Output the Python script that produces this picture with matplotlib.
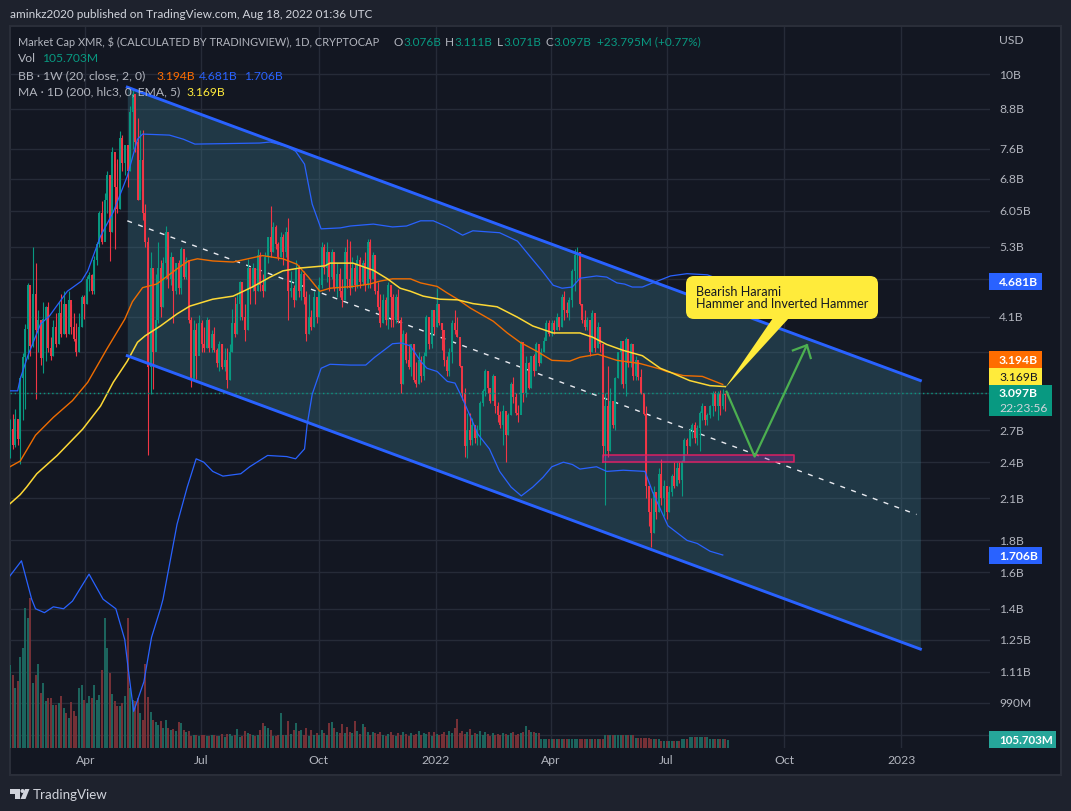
import numpy as np
import pandas as pd
import matplotlib
matplotlib.use('Agg')
import matplotlib.pyplot as plt
from matplotlib.patches import Rectangle, FancyBboxPatch, Polygon, Circle

plt.rcParams['font.family'] = ['Lato', 'DejaVu Sans']

# daily candles, grouped in 2 day bars (values in billions)
closes = [
    2.71, 2.56, 2.81, 2.61, 3.27, 3.53, 3.92, 4.60, 3.68, 4.45,
    3.90, 4.05, 3.52, 4.06, 4.25, 3.65, 3.55, 3.95, 3.70, 4.15,
    3.85, 4.30, 3.85, 4.35, 3.95, 3.78, 3.60, 3.95, 4.40, 4.30,
    4.70, 4.78, 4.50, 5.05, 5.35, 6.00, 5.40, 6.30, 6.90, 5.60,
    7.50, 6.60, 6.10, 7.90, 7.20, 7.70, 7.00, 8.70, 9.30, 7.80,
    6.30, 7.30, 6.00, 5.40, 3.40, 4.90, 3.60, 4.05, 4.90, 4.25,
    5.00, 5.60, 4.70, 5.10, 4.50, 5.00, 4.55, 5.25, 4.75, 5.05,
    4.05, 3.25, 3.90, 3.55, 4.00, 3.70, 3.65, 4.05, 3.65, 3.85,
    3.62, 3.45, 3.70, 3.40, 3.50, 3.25, 3.60, 4.00, 3.85, 4.30,
    4.65, 4.10, 3.90, 4.90, 4.55, 4.90, 4.50, 5.15, 4.60, 4.50,
    5.10, 5.50, 5.20, 5.70, 5.35, 5.10, 5.50, 5.20, 5.60, 4.50,
    4.55, 4.35, 4.90, 4.50, 4.80, 4.40, 3.85, 4.10, 3.95, 4.40,
    4.10, 4.60, 5.30, 4.90, 5.20, 4.75, 5.20, 4.55, 4.80, 4.50,
    4.35, 5.20, 4.70, 4.55, 4.90, 4.60, 5.05, 4.65, 5.00, 4.60,
    5.40, 4.70, 5.15, 4.50, 4.25, 4.00, 4.35, 4.05, 4.60, 4.40,
    4.05, 4.40, 4.05, 3.20, 3.85, 3.50, 3.40, 3.70, 3.25, 3.20,
    3.50, 3.30, 3.55, 4.10, 3.70, 4.20, 3.95, 4.30, 4.00, 3.90,
    3.50, 3.35, 3.60, 4.00, 3.90, 3.80, 3.42, 3.10, 2.55, 2.70,
    2.60, 2.75, 2.62, 2.70, 2.98, 3.12, 3.36, 3.15, 3.00, 3.30,
    2.95, 2.85, 2.75, 2.90, 2.65, 2.85, 3.20, 3.05, 2.88, 2.85,
    3.73, 3.10, 3.45, 3.15, 3.55, 3.35, 3.70, 3.45, 3.60, 3.75,
    4.00, 3.85, 4.00, 3.90, 4.10, 3.95, 4.40, 4.20, 4.15, 4.35,
    4.85, 5.15, 5.20, 4.30, 4.05, 3.95, 4.05, 3.60, 4.15, 3.65,
    3.95, 3.70, 2.55, 2.95, 2.50, 3.00, 2.75, 3.27, 3.60, 3.75,
    3.20, 3.78, 3.45, 3.70, 3.30, 3.50, 3.28, 3.10, 2.87, 2.20,
    2.00, 1.85, 2.15, 2.00, 2.30, 2.10, 2.20, 2.00, 2.15, 2.28,
    2.20, 2.35, 2.25, 2.40, 2.60, 2.55, 2.70, 2.75, 2.62, 2.72,
    2.88, 2.95, 2.80, 2.85, 2.95, 3.10, 2.95, 3.10, 2.95, 3.08,
    3.076, 3.097,
]
highs = [
    2.81, 2.87, 2.92, 2.79, 3.29, 3.59, 3.99, 4.64, 4.37, 5.30,
    5.00, 4.20, 4.02, 4.33, 4.26, 4.33, 3.80, 4.05, 4.15, 4.33,
    4.45, 4.50, 4.30, 4.50, 4.30, 4.15, 4.00, 4.15, 4.43, 4.43,
    4.76, 4.83, 4.80, 5.13, 5.40, 6.05, 6.27, 6.45, 7.00, 6.90,
    7.65, 7.20, 7.32, 8.10, 8.00, 7.70, 7.60, 8.90, 9.45, 8.80,
    8.50, 8.15, 8.15, 6.20, 5.50, 5.20, 4.85, 4.80, 5.40, 5.05,
    5.10, 5.72, 5.60, 5.20, 5.10, 5.00, 5.05, 5.30, 5.20, 5.10,
    4.88, 4.10, 4.05, 4.00, 4.13, 4.05, 3.95, 4.10, 4.06, 3.90,
    3.95, 3.65, 3.75, 3.70, 3.65, 3.65, 3.70, 4.22, 4.40, 4.45,
    4.68, 4.60, 4.30, 5.07, 4.90, 5.00, 4.90, 5.25, 5.20, 4.80,
    5.20, 5.50, 6.15, 5.80, 5.75, 5.40, 5.60, 5.55, 5.70, 5.90,
    4.85, 4.60, 5.05, 4.95, 4.85, 4.85, 4.50, 4.45, 4.20, 4.50,
    4.40, 4.75, 5.40, 5.35, 5.40, 5.15, 5.25, 5.20, 5.00, 4.90,
    4.70, 5.30, 5.45, 5.42, 5.10, 5.00, 5.15, 5.10, 5.05, 5.20,
    5.45, 5.45, 5.20, 5.15, 4.65, 4.45, 4.45, 4.40, 4.65, 4.60,
    4.45, 4.45, 4.54, 4.10, 3.90, 3.88, 3.70, 3.70, 3.70, 3.47,
    3.60, 3.55, 3.60, 4.12, 4.10, 4.20, 4.20, 4.55, 4.20, 4.00,
    3.70, 3.55, 3.65, 4.05, 4.20, 4.10, 3.62, 3.20, 3.15, 2.88,
    2.88, 2.82, 2.75, 2.75, 3.00, 3.14, 3.38, 3.36, 3.15, 3.32,
    3.06, 2.99, 2.90, 2.96, 2.78, 2.88, 3.22, 3.28, 3.10, 2.96,
    3.75, 3.57, 3.55, 3.47, 3.55, 3.57, 3.73, 3.60, 3.65, 3.80,
    4.05, 4.05, 4.05, 4.05, 4.15, 4.10, 4.45, 4.50, 4.32, 4.40,
    4.88, 5.25, 5.30, 5.20, 4.30, 4.20, 4.10, 4.05, 4.20, 4.10,
    4.02, 3.95, 3.42, 3.10, 3.42, 3.15, 3.00, 3.28, 3.60, 3.75,
    3.47, 3.80, 3.70, 3.72, 3.55, 3.55, 3.47, 3.38, 3.00, 2.95,
    2.20, 2.10, 2.20, 2.15, 2.35, 2.43, 2.25, 2.20, 2.20, 2.30,
    2.40, 2.40, 2.40, 2.42, 2.62, 2.62, 2.72, 2.77, 2.78, 2.75,
    2.90, 2.98, 2.95, 2.88, 2.96, 3.12, 3.12, 3.12, 3.13, 3.14,
    3.10, 3.111,
]
lows = [
    2.44, 2.52, 2.54, 2.56, 2.38, 2.80, 2.92, 3.51, 3.54, 3.66,
    3.03, 3.60, 3.43, 3.33, 3.48, 3.60, 3.50, 3.55, 3.66, 3.70,
    3.80, 3.85, 3.80, 3.85, 3.85, 3.75, 3.55, 3.60, 3.95, 4.06,
    4.30, 4.50, 4.45, 4.45, 4.95, 5.30, 5.35, 5.45, 6.00, 5.03,
    5.60, 5.26, 6.00, 6.10, 7.00, 6.90, 6.60, 7.00, 7.60, 7.50,
    6.30, 6.50, 5.85, 5.30, 2.46, 3.08, 3.14, 3.80, 4.00, 4.10,
    4.25, 4.70, 4.55, 4.60, 4.00, 4.45, 4.45, 4.45, 4.70, 4.70,
    4.00, 3.17, 3.30, 3.26, 3.60, 3.60, 3.60, 3.65, 3.60, 3.60,
    3.60, 3.40, 3.35, 3.38, 3.35, 3.15, 3.25, 3.60, 3.80, 3.85,
    4.05, 4.05, 3.75, 3.90, 4.30, 4.50, 4.30, 4.50, 4.50, 4.40,
    4.50, 5.00, 5.10, 5.20, 5.25, 5.05, 5.10, 4.95, 5.10, 4.05,
    4.40, 4.25, 4.35, 4.40, 4.35, 4.30, 3.75, 3.85, 3.90, 3.95,
    4.00, 4.10, 4.55, 4.80, 4.65, 4.50, 4.70, 4.50, 4.40, 4.40,
    4.25, 4.35, 4.55, 4.43, 4.55, 4.50, 4.55, 4.55, 4.60, 4.50,
    4.55, 4.55, 4.70, 4.45, 4.20, 3.95, 4.00, 3.98, 3.92, 3.95,
    3.95, 4.00, 4.00, 3.10, 3.20, 3.45, 3.38, 3.30, 3.22, 3.16,
    3.20, 3.22, 3.25, 3.55, 3.64, 3.65, 3.85, 3.95, 3.97, 3.62,
    3.42, 3.30, 3.30, 3.45, 3.85, 3.80, 3.40, 3.02, 2.45, 2.44,
    2.56, 2.56, 2.58, 2.56, 2.56, 2.95, 3.06, 3.10, 2.98, 3.04,
    2.88, 2.78, 2.72, 2.56, 2.40, 2.65, 2.85, 2.98, 2.85, 2.78,
    2.95, 2.99, 3.05, 3.14, 3.15, 3.30, 3.40, 3.42, 3.45, 3.60,
    3.80, 3.82, 3.82, 3.85, 3.90, 3.90, 3.95, 4.05, 4.10, 4.05,
    4.25, 4.50, 4.70, 4.27, 4.00, 3.90, 3.90, 3.55, 3.60, 3.60,
    3.65, 3.60, 2.45, 2.05, 2.45, 2.50, 2.72, 2.70, 3.27, 3.20,
    3.15, 3.06, 3.40, 3.40, 3.25, 3.25, 3.25, 3.08, 2.85, 2.10,
    1.90, 1.76, 1.85, 1.95, 2.00, 2.05, 1.97, 1.95, 2.00, 2.12,
    2.18, 2.20, 2.22, 2.12, 2.40, 2.47, 2.55, 2.62, 2.58, 2.56,
    2.50, 2.80, 2.75, 2.75, 2.82, 2.84, 2.90, 2.80, 2.85, 2.92,
    2.90, 3.071,
]
first_open = 2.65

# volume in millions
volumes = [
    1096, 964, 792, 884, 1201, 1320, 1848, 1716, 1980, 858,
    964, 1109, 726, 858, 620, 660, 660, 568, 568, 594,
    686, 528, 462, 396, 607, 488, 422, 792, 832, 634,
    594, 686, 660, 832, 634, 700, 1030, 1716, 1320, 990,
    713, 620, 554, 554, 594, 686, 1716, 792, 634, 620,
    660, 462, 370, 1109, 673, 475, 370, 343, 304, 356,
    264, 370, 264, 238, 251, 224, 343, 330, 238, 211,
    224, 158, 172, 172, 158, 172, 172, 158, 158, 172,
    172, 158, 158, 185, 145, 185, 185, 158, 172, 251,
    145, 158, 224, 198, 185, 172, 158, 172, 238, 330,
    290, 264, 238, 158, 158, 172, 462, 172, 172, 356,
    185, 238, 330, 224, 238, 172, 264, 158, 238, 172,
    198, 172, 238, 198, 172, 330, 343, 264, 211, 198,
    317, 198, 277, 211, 198, 356, 224, 185, 317, 277,
    211, 172, 211, 198, 185, 211, 172, 158, 185, 211,
    172, 158, 198, 172, 211, 185, 158, 198, 172, 185,
    224, 172, 198, 185, 211, 158, 211, 185, 172, 185,
    211, 172, 224, 198, 264, 383, 198, 224, 185, 211,
    251, 172, 198, 185, 224, 172, 211, 185, 158, 198,
    172, 185, 172, 198, 185, 172, 198, 211, 172, 185,
    198, 211, 290, 238, 211, 211, 198, 198,
    119, 119, 119, 119, 119, 119, 119, 119, 119, 119, 119, 119,
    119, 119, 119, 119, 119, 119, 119, 119, 119, 119, 119, 119, 119,
    172, 172, 172, 172, 172, 172, 172, 172, 172, 172, 172, 172,
    132, 132, 132, 132, 132, 132, 119, 119, 119, 119,
    86, 86, 86, 86, 86, 86, 86, 86, 119, 119, 119,
    145, 145, 145, 145, 145, 145, 145, 145,
    119, 119, 119, 119, 119, 119, 119, 105.7,
]

# indicator lines, days counted from 1 Feb 2021
upper_days = [0, 6, 8, 14, 24, 31, 45, 56, 61, 71, 81, 92, 100, 104, 125, 136, 145, 196, 204, 217,
              224, 231, 237, 244, 259, 267, 285, 300, 311, 322, 332, 343, 355, 363, 384, 398, 408,
              418, 426, 433, 441, 447, 460, 468, 476, 482, 488, 496, 504, 510, 518, 531, 547, 559]
upper_vals = [3.12, 3.12, 3.26, 3.55, 3.99, 4.11, 4.50, 4.67, 4.85, 5.51, 6.02, 6.87, 7.87, 8.02, 7.99,
              7.87, 7.73, 7.76, 7.79, 7.67, 7.53, 7.18, 6.20, 5.66, 5.68, 5.72, 5.76, 5.70, 5.72, 5.83,
              5.83, 5.70, 5.53, 5.62, 5.58, 5.41, 5.11, 4.83, 4.60, 4.55, 4.57, 4.72, 4.76, 4.74, 4.64,
              4.62, 4.57, 4.57, 4.64, 4.69, 4.76, 4.80, 4.78, 4.681]
basis_days = [0, 8, 20, 34, 49, 61, 76, 90, 96, 104, 115, 133, 140, 147, 159, 175, 198, 214, 225, 234,
              243, 251, 269, 282, 290, 300, 314, 322, 335, 343, 351, 361, 379, 390, 400, 413, 425,
              439, 447, 461, 476, 494, 510, 515, 528, 543, 559]
basis_vals = [2.36, 2.41, 2.65, 2.83, 3.01, 3.22, 3.64, 4.06, 4.33, 4.56, 4.62, 4.92, 5.03, 5.07, 5.03,
              5.01, 5.13, 5.07, 4.97, 4.74, 4.50, 4.55, 4.58, 4.62, 4.67, 4.71, 4.71, 4.64, 4.58, 4.47,
              4.37, 4.23, 4.03, 3.86, 3.73, 3.61, 3.49, 3.48, 3.53, 3.57, 3.49, 3.45, 3.38, 3.35, 3.30,
              3.29, 3.194]
lower_days = [0, 9, 17, 20, 27, 34, 42, 49, 62, 73, 83, 90, 93, 97, 105, 111, 118, 120, 131, 139, 146,
              152, 159, 167, 181, 188, 202, 217, 224, 231, 233, 237, 244, 251, 267, 279, 286, 300,
              307, 314, 322, 327, 335, 343, 349, 355, 361, 367, 376, 384, 393, 401, 410, 418, 425,
              434, 441, 447, 460, 468, 481, 498, 504, 516, 531, 539, 549, 559]
lower_vals = [1.58, 1.67, 1.45, 1.40, 1.38, 1.41, 1.40, 1.44, 1.59, 1.45, 1.40, 1.25, 1.11, 0.96, 1.07,
              1.26, 1.40, 1.45, 1.91, 2.19, 2.43, 2.40, 2.32, 2.28, 2.30, 2.36, 2.46, 2.45, 2.43, 2.52,
              2.75, 3.08, 3.39, 3.44, 3.43, 3.43, 3.53, 3.71, 3.72, 3.68, 3.48, 3.39, 3.35, 3.23, 3.21,
              3.03, 2.84, 2.66, 2.52, 2.32, 2.19, 2.12, 2.19, 2.27, 2.36, 2.40, 2.38, 2.34, 2.36, 2.32,
              2.33, 2.32, 2.15, 1.90, 1.80, 1.78, 1.73, 1.706]
ma_days = [0, 8, 13, 21, 37, 57, 71, 81, 92, 100, 106, 118, 131, 141, 159, 175, 190, 204, 214, 227, 247,
           251, 269, 285, 296, 306, 314, 324, 337, 351, 363, 382, 398, 410, 426, 447, 457, 468, 481,
           496, 510, 518, 533, 549, 561]
ma_vals = [2.06, 2.13, 2.19, 2.30, 2.46, 2.71, 2.95, 3.22, 3.48, 3.73, 3.82, 3.96, 4.14, 4.26, 4.37, 4.42,
           4.57, 4.74, 4.85, 4.90, 4.94, 4.99, 4.99, 4.86, 4.71, 4.55, 4.50, 4.42, 4.37, 4.36, 4.30,
           4.25, 4.09, 3.96, 3.86, 3.86, 3.80, 3.70, 3.62, 3.55, 3.39, 3.34, 3.24, 3.18, 3.169]

# drawings on the chart
chan_days = [92, 714]
chan_upper = [9.53, 3.24]
chan_lower = [3.55, 1.207]
mid_days = [92, 711]
mid_vals = [5.83, 1.98]
zone_days = [465, 615]
zone_vals = [2.40, 2.464]
path_days = [562, 584, 625]
path_vals = [3.11, 2.45, 3.69]
head_days = [614, 625, 628]
head_vals = [3.62, 3.69, 3.52]

last_price = 3.097

price_ticks = [10, 8.8, 7.6, 6.8, 6.05, 5.3, 4.1, 2.7, 2.4, 2.1, 1.8, 1.6, 1.4, 1.25, 1.11, 0.99]
price_labels = ['10B', '8.8B', '7.6B', '6.8B', '6.05B', '5.3B', '4.1B', '2.7B', '2.4B', '2.1B',
                '1.8B', '1.6B', '1.4B', '1.25B', '1.11B', '990M']
hidden_ticks = [4.7, 3.6, 3.1, 0.88]
time_ticks = ['2021-04-01', '2021-07-01', '2021-10-01', '2022-01-01', '2022-04-01', '2022-07-01',
              '2022-10-01', '2023-01-01']
time_labels = ['Apr', 'Jul', 'Oct', '2022', 'Apr', 'Jul', 'Oct', '2023']

BG = '#131722'
OUTER = '#1e222d'
EDGE = '#2a2e39'
GRID = '#262b38'
TEXT = '#b2b5be'
UP = '#089981'
DOWN = '#f23645'
BLUE = '#2962ff'
ORANGE = '#ef6c00'
YELLOW = '#fdd835'
W, H = 1071, 812

fig = plt.figure(figsize=(W / 100, H / 100), dpi=100, facecolor=OUTER)


def pixel_axes(z):
    a = fig.add_axes([0, 0, 1, 1], zorder=z)
    a.set_xlim(0, W)
    a.set_ylim(H, 0)
    a.axis('off')
    return a


back = pixel_axes(0)
back.add_patch(Rectangle((10, 27), 1051, 749, fc=BG, ec=EDGE, lw=1.5))

pane = [10 / W, 1 - 749 / H, 980 / W, 721 / H]
vol_ax = fig.add_axes(pane, zorder=1)
vol_ax.patch.set_alpha(0)
ax = fig.add_axes(pane, zorder=2)
ax.patch.set_alpha(0)
for a in (ax, vol_ax):
    a.set_xlim(0, 768.6)
    for s in a.spines.values():
        s.set_visible(False)
    a.tick_params(left=False, bottom=False, labelleft=False, labelbottom=False, which='both')

ax.set_yscale('log')
ax.set_ylim(0.839, 11.89)
vol_ax.set_ylim(0, 9517)

start = pd.Timestamp('2021-02-01')
tick_days = [(pd.Timestamp(t) - start).days for t in time_ticks]

# grid lives on the bottom axes so volume and candles sit over it
to_frac = lambda v: (np.log(v) - np.log(0.839)) / (np.log(11.89) - np.log(0.839))
for v in price_ticks + hidden_ticks:
    vol_ax.axhline(to_frac(v) * 9517, color=GRID, lw=1, zorder=0)
for d in tick_days:
    vol_ax.axvline(d, color=GRID, lw=1, zorder=0)

bar_days = np.linspace(0, 563, len(closes))
closes_arr = np.array(closes)
opens_arr = np.r_[first_open, closes_arr[:-1]]
is_up = closes_arr >= opens_arr

# volume
vol_days = np.linspace(0, 563, len(volumes))
vol_idx = np.round(np.linspace(0, len(closes) - 1, len(volumes))).astype(int)
vol_colors = ['#1d6a61' if is_up[i] else '#7c3238' for i in vol_idx]
vol_ax.vlines(vol_days, 0, volumes, colors=vol_colors, lw=1.35, capstyle='butt', zorder=2)

# channel
ax.fill_between(chan_days, chan_lower, chan_upper, color='#3b7a8c', alpha=0.34, lw=0, zorder=1)
ax.plot(mid_days, mid_vals, color='#e8eaf0', lw=1.0, dashes=(3.6, 4.7), zorder=2)

# candles
colors = [UP if u else DOWN for u in is_up]
ax.vlines(bar_days, lows, highs, colors=colors, lw=0.8, capstyle='butt', zorder=3)
ax.vlines(bar_days, opens_arr, closes_arr, colors=colors, lw=1.4, capstyle='butt', zorder=3)

# indicators
ax.plot(upper_days, upper_vals, color=BLUE, lw=0.9, zorder=4)
ax.plot(lower_days, lower_vals, color=BLUE, lw=0.9, zorder=4)
ax.plot(basis_days, basis_vals, color=ORANGE, lw=1.0, zorder=4)
ax.plot(ma_days, ma_vals, color=YELLOW, lw=1.1, zorder=4)

ax.axhline(last_price, color=UP, lw=1, ls=(0, (1, 2)), zorder=4)

# trend channel edges, zone and arrow
ax.plot(chan_days, chan_upper, color=BLUE, lw=2.1, zorder=5)
ax.plot(chan_days, chan_lower, color=BLUE, lw=2.1, zorder=5)
ax.fill_between(zone_days, zone_vals[0], zone_vals[1], facecolor='#9c27b0', alpha=0.3, lw=0, zorder=5)
ax.plot([zone_days[0], zone_days[1], zone_days[1], zone_days[0], zone_days[0]],
        [zone_vals[0], zone_vals[0], zone_vals[1], zone_vals[1], zone_vals[0]],
        color='#e91e63', lw=1.2, alpha=0.85, zorder=5)
ax.plot(path_days, path_vals, color='#4caf50', lw=1.6, zorder=6)
ax.plot(head_days, head_vals, color='#4caf50', lw=1.6, zorder=6)

# everything on top: text, price tags, callout
top = pixel_axes(3)


def label(x, y, s, color=TEXT, size=8.7, **kw):
    top.text(x, y, s, color=color, fontsize=size, va='center', **kw)


label(10, 14, 'aminkz2020 published on TradingView.com, Aug 18, 2022 01:36 UTC', color='#d1d4dc', size=8.5)

label(18, 42, 'Market Cap XMR, $ (CALCULATED BY TRADINGVIEW), 1D, CRYPTOCAP', size=7.9)
for x, s, c in [(394, 'O', TEXT), (403, '3.076B', UP), (445, 'H', TEXT), (454, '3.111B', UP),
                (497, 'L', TEXT), (503, '3.071B', UP), (546, 'C', TEXT), (553, '3.097B', UP),
                (597, '+23.795M (+0.77%)', UP)]:
    label(x, 42, s, color=c, size=8.5)
label(18, 59, 'Vol')
label(42, 59, '105.703M', color=UP)
label(18, 76, 'BB · 1W (20, close, 2, 0)')
label(156, 76, '3.194B', color='#ff6d00')
label(199, 76, '4.681B', color=BLUE)
label(244, 76, '1.706B', color=BLUE)
label(18, 92, 'MA · 1D (200, hlc3, 0, EMA, 5)')
label(186, 92, '3.169B', color='#ffeb3b')

# price scale, placed through the log axis
to_y = lambda v: 749 - 721 * to_frac(v)
label(999, 40, 'USD')
for v, s in zip(price_ticks, price_labels):
    label(999, to_y(v), s)

for y0, y1, x1, c in [(274, 291, 1042, BLUE), (352, 369, 1042, '#ff6d00'), (369, 386, 1042, '#ffeb3b'),
                      (386, 417, 1052, UP), (548, 565, 1042, BLUE), (732, 749, 1056, '#26a69a')]:
    top.add_patch(Rectangle((989, y0), x1 - 989, y1 - y0, fc=c, ec='none'))
label(999, 283, '4.681B', color='white', weight='bold')
label(999, 361, '3.194B', color='white', weight='bold')
label(999, 378, '3.169B', color='#131722')
label(999, 394, '3.097B', color='white', weight='bold')
label(999, 409, '22:23:56', color='#d1d4dc')
label(999, 557, '1.706B', color='white', weight='bold')
label(999, 741, '105.703M', color='white', weight='bold', size=8.4)

for d, s in zip(tick_days, time_labels):
    top.text(10 + d * 980 / 768.6, 761, s, color=TEXT, fontsize=8.7, ha='center', va='center')

# yellow callout
top.add_patch(FancyBboxPatch((692, 283), 180, 31, boxstyle='round,pad=6,rounding_size=8', fc='#ffeb3b', ec='none'))
top.add_patch(Polygon([(773, 319), (789, 319), (725, 389)], fc='#ffeb3b', ec='none'))
top.text(696, 292, 'Bearish Harami', color='#131722', fontsize=9.1, va='center')
top.text(696, 304, 'Hammer and Inverted Hammer', color='#131722', fontsize=9.1, va='center')

# TradingView logo
logo = '#d1d4dc'
top.add_patch(Polygon([(10, 790), (20, 790), (20, 800), (15, 800), (15, 794.5), (10, 794.5)], fc=logo, ec='none'))
top.add_patch(Circle((22.5, 792), 2, fc=logo, ec='none'))
top.add_patch(Polygon([(25, 790), (29.5, 790), (25.5, 800), (20.5, 800)], fc=logo, ec='none'))
label(33, 795, 'TradingView', color='#d1d4dc', size=9.6)

fig.savefig('out.png', dpi=100, facecolor=OUTER)
